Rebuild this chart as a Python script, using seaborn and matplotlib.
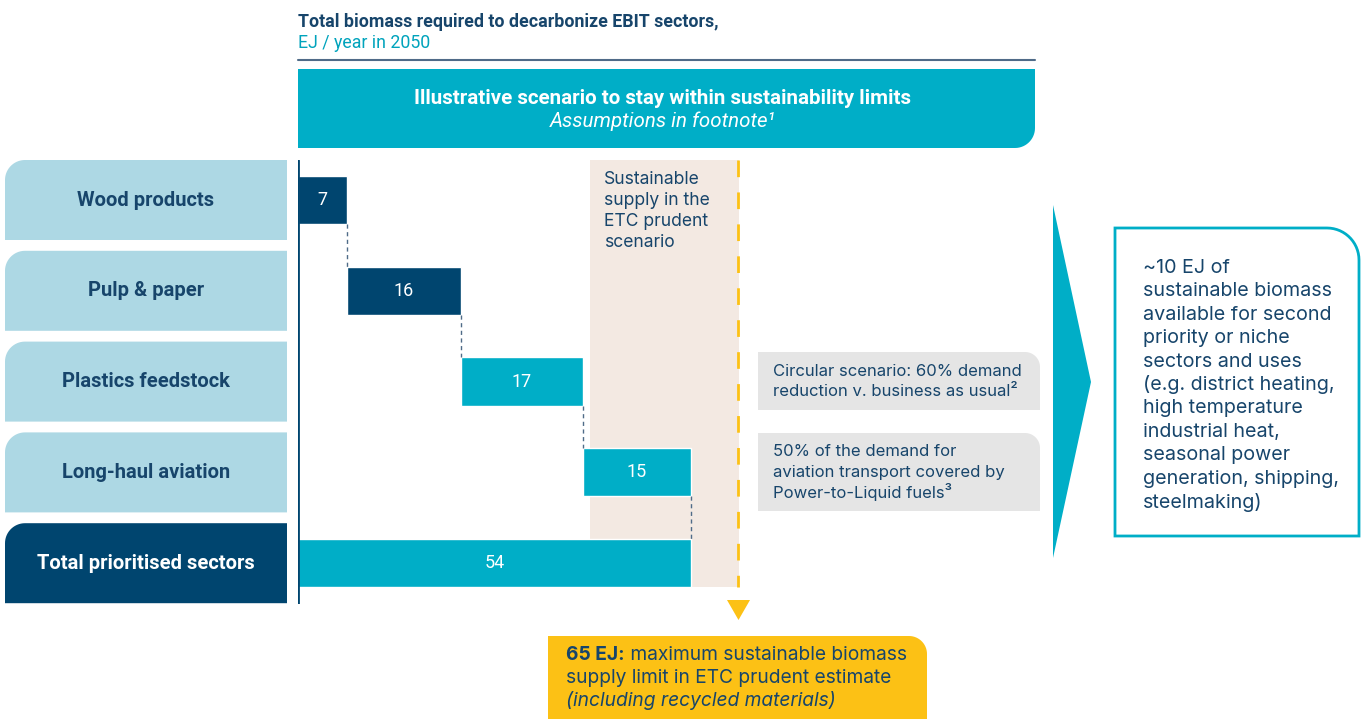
import numpy as np
import pandas as pd
import matplotlib.pyplot as plt
import seaborn as sns
from matplotlib.patches import Polygon, Rectangle

# Dados (EJ / ano em 2050)
sectors = ['Wood products', 'Pulp & paper', 'Plastics feedstock', 'Long-haul aviation']
demand = [6.7, 15.7, 16.7, 14.9]          # valores estimados pela largura das barras
demand_labels = ['7', '16', '17', '15']
total_label = 'Total prioritised sectors'
total_value = '54'
sector_colors = ['#00456F', '#00456F', '#00AEC7', '#00AEC7']
supply_limit_text = '65 EJ:'
band_lines = ['Sustainable', 'supply in the', 'ETC prudent', 'scenario']
notes = ['Circular scenario: 60% demand\nreduction v. business as usual²',
         '50% of the demand for\naviation transport covered by\nPower-to-Liquid fuels³']
right_lines = ['~10 EJ of', 'sustainable biomass', 'available for second', 'priority or niche',
               'sectors and uses', '(e.g. district heating,', 'high temperature',
               'industrial heat,', 'seasonal power', 'generation, shipping,', 'steelmaking)']

df = pd.DataFrame({'sector': sectors, 'demand': demand, 'label': demand_labels})
df['start'] = df['demand'].cumsum() - df['demand']
df['end'] = df['demand'].cumsum()
total = df['demand'].sum()

NAVY = '#00456F'
TEAL = '#00AEC7'
LIGHT = '#ADD8E4'
BEIGE = '#F3E9E2'
YELLOW = '#FCC115'
GREY = '#E5E5E5'
TXT = '#17456B'

sns.set_theme(style='white')
plt.rcParams['font.family'] = ['Roboto', 'DejaVu Sans']
inter = ['Inter', 'DejaVu Sans']

fig = plt.figure(figsize=(13.65, 7.19), dpi=100)
bg = fig.add_axes([0, 0, 1, 1])
bg.set_xlim(0, 1365)
bg.set_ylim(719, 0)
bg.axis('off')


def corner_box(ax, x0, y0, x1, y1, r, corner, **kw):
    # caixa com um único canto arredondado (coordenadas em pixels, y para baixo)
    t = np.linspace(0, np.pi / 2, 16)
    pts = []
    if corner == 'tl':
        cx, cy = x0 + r, y0 + r
        pts += list(zip(cx - r * np.cos(t), cy - r * np.sin(t)))
    else:
        pts.append((x0, y0))
    if corner == 'tr':
        cx, cy = x1 - r, y0 + r
        pts += list(zip(cx + r * np.sin(t), cy - r * np.cos(t)))
    else:
        pts.append((x1, y0))
    if corner == 'br':
        cx, cy = x1 - r, y1 - r
        pts += list(zip(cx + r * np.cos(t), cy + r * np.sin(t)))
    else:
        pts.append((x1, y1))
    pts.append((x0, y1))
    ax.add_patch(Polygon(pts, closed=True, **kw))


# Título
bg.text(298, 22, 'Total biomass required to decarbonize EBIT sectors,', fontsize=12.8,
        fontweight='bold', color=TXT, va='center', ha='left')
bg.text(298, 43, 'EJ / year in 2050', fontsize=12.8, color='#00A3BC', va='center', ha='left')
bg.plot([298, 1035], [60, 60], color='#4F6B88', lw=1.5)

# Faixa do cenário
corner_box(bg, 298, 69, 1035, 148, 20, 'br', facecolor=TEAL, edgecolor='none')
bg.text(663, 99, 'Illustrative scenario to stay within sustainability limits', fontsize=14.8,
        fontweight='bold', color='white', ha='center', va='center')
bg.text(663, 121, 'Assumptions in footnote¹', fontsize=14.8, style='italic',
        color='white', ha='center', va='center')

# Caixas das categorias
row_y = [200 + i * 90.8 for i in range(len(sectors) + 1)]
for i, name in enumerate(sectors + [total_label]):
    is_total = i == len(sectors)
    corner_box(bg, 5, row_y[i] - 40, 287, row_y[i] + 40, 20, 'tl',
               facecolor=NAVY if is_total else LIGHT, edgecolor='none')
    bg.text(146, row_y[i], name, fontsize=14.5, fontweight='bold',
            color='white' if is_total else TXT, ha='center', va='center')

# Eixo principal do waterfall
scale = 7.28  # px por EJ
ax = fig.add_axes([298 / 1365, (719 - 604) / 719, 560 / 1365, 444 / 719])
ax.set_xlim(0, 560 / scale)
ax.set_ylim(4.45, -0.44)
ax.axis('off')
ax.patch.set_alpha(0)

bar_h = 0.53
band_start, limit_pos = 40.1, 60.4
ax.add_patch(Rectangle((band_start, -0.44), limit_pos - band_start + 0.2, 4.44 + bar_h / 2,
                       facecolor=BEIGE, edgecolor='none', zorder=0))
ax.plot([limit_pos, limit_pos], [-0.44, 4 + bar_h / 2], color=YELLOW, lw=2,
        dashes=(6, 5.5), zorder=1)

ax.barh(range(len(df)), df['demand'], left=df['start'], height=bar_h,
        color=sector_colors, zorder=2)
ax.barh([len(df)], [total], left=[0], height=bar_h, color=TEAL, zorder=2)

for i, row in df.iterrows():
    ax.text(row['start'] + row['demand'] / 2, i, row['label'], color='white',
            fontsize=13, ha='center', va='center', zorder=3)
    ax.plot([row['end'], row['end']], [i + bar_h / 2, i + 1 - bar_h / 2],
            color='#4F6B88', lw=1, ls=(0, (3, 2.5)), zorder=3)
ax.text(total / 2, len(df), total_value, color='white', fontsize=13,
        ha='center', va='center', zorder=3)
ax.axvline(0, color=NAVY, lw=2, zorder=4)

# texto da faixa bege (no eixo de cima, em coordenadas de pixel)
for k, line in enumerate(band_lines):
    ax.text(604, 180 + k * 20.7, line, family=inter, fontsize=12.6, color=TXT,
            va='center', ha='left', transform=bg.transData, zorder=5)

# Triângulo e caixa amarela
bg.add_patch(Polygon([(727, 600), (750, 600), (738.5, 620)], closed=True,
                     facecolor=YELLOW, edgecolor='none'))
corner_box(bg, 548, 636, 927, 722, 18, 'tr', facecolor=YELLOW, edgecolor='none')
t1 = bg.text(566, 655, supply_limit_text, family=inter, fontsize=13.8, fontweight='bold',
             color=TXT, va='center', ha='left')
fig.canvas.draw()
x_after = bg.transData.inverted().transform((t1.get_window_extent().x1, 0))[0]
bg.text(x_after, 655, ' maximum sustainable biomass', family=inter, fontsize=13.8,
        color=TXT, va='center', ha='left')
bg.text(566, 678, 'supply limit in ETC prudent estimate', family=inter, fontsize=13.8,
        color=TXT, va='center', ha='left')
bg.text(566, 701, '(including recycled materials)', family=inter, fontsize=13.8,
        style='italic', color=TXT, va='center', ha='left')

# Notas cinzas
corner_box(bg, 758, 352, 1040, 410, 15, 'tr', facecolor=GREY, edgecolor='none')
corner_box(bg, 758, 433, 1040, 511, 15, 'tr', facecolor=GREY, edgecolor='none')
for top, note in zip([371, 452], notes):
    for k, line in enumerate(note.split('\n')):
        bg.text(773, top + k * 20, line, family=inter, fontsize=12, color=TXT,
                va='center', ha='left')

# Seta e caixa da direita
bg.add_patch(Polygon([(1053, 205), (1091, 382), (1053, 558)], closed=True,
                     facecolor=TEAL, edgecolor='none'))
corner_box(bg, 1115, 228, 1359, 536, 32, 'tr', facecolor='white', edgecolor=TEAL, lw=2)
for k, line in enumerate(right_lines):
    bg.text(1143, 268 + k * 23.4, line, family=inter, fontsize=14.2, color=TXT,
            va='center', ha='left')

fig.savefig('out.png', dpi=100)
